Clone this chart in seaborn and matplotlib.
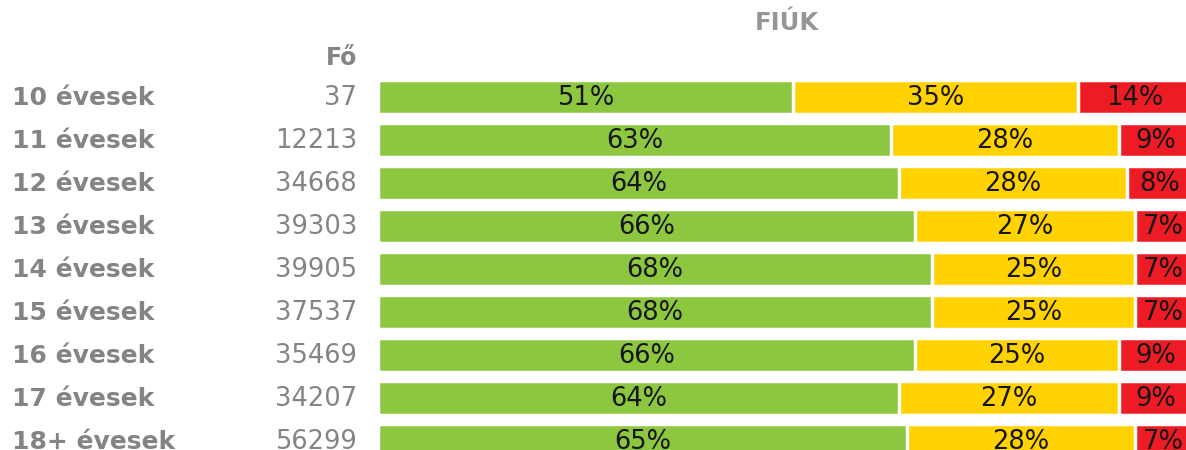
import numpy as np
import pandas as pd
import matplotlib
matplotlib.use('Agg')
import matplotlib.pyplot as plt
import matplotlib.transforms as mtransforms
import seaborn as sns

# Adatok
korcsoport = ['10 évesek', '11 évesek', '12 évesek', '13 évesek', '14 évesek',
              '15 évesek', '16 évesek', '17 évesek', '18+ évesek']
fo = [37, 12213, 34668, 39303, 39905, 37537, 35469, 34207, 56299]
zold = [51, 63, 64, 66, 68, 68, 66, 64, 65]
sarga = [35, 28, 28, 27, 25, 25, 25, 27, 28]
piros = [14, 9, 8, 7, 7, 7, 9, 9, 7]

szinek = {'zold': '#8DC63F', 'sarga': '#FFD200', 'piros': '#ED1C24'}
szurke = '#848484'

sns.set_style('white')
plt.rcParams['font.family'] = ['DejaVu Sans']

df = pd.DataFrame({'kor': korcsoport, 'fo': fo, 'zold': zold,
                   'sarga': sarga, 'piros': piros})
df['cum_sarga'] = df['zold'] + df['sarga']
df['cum_piros'] = df['cum_sarga'] + df['piros']

fig = plt.figure(figsize=(11.86, 4.5), dpi=100)
ax = fig.add_axes([378 / 1186, -12.5 / 450, 814 / 1186, 387 / 450])

# Halmozott sávok: a teljes hosszt rajzoljuk előbb, utána ráhelyezzük a rövidebbeket
sns.barplot(data=df, x='cum_piros', y='kor', orient='h', color=szinek['piros'],
            saturation=1, width=0.8, edgecolor='white', linewidth=2.5, ax=ax)
sns.barplot(data=df, x='cum_sarga', y='kor', orient='h', color=szinek['sarga'],
            saturation=1, width=0.8, edgecolor='white', linewidth=2.5, ax=ax)
sns.barplot(data=df, x='zold', y='kor', orient='h', color=szinek['zold'],
            saturation=1, width=0.8, edgecolor='white', linewidth=2.5, ax=ax)

ax.set_xlim(0, 100)
ax.set_ylim(8.5, -0.5)
ax.set_xlabel('')
ax.set_ylabel('')
ax.set_xticks([])
ax.set_yticks([])
sns.despine(ax=ax, left=True, bottom=True)

# Százalék feliratok a szakaszok közepén
for i, row in df.iterrows():
    kozepek = [row['zold'] / 2,
               row['zold'] + row['sarga'] / 2,
               row['cum_sarga'] + row['piros'] / 2]
    for xk, v in zip(kozepek, [row['zold'], row['sarga'], row['piros']]):
        ax.text(xk, i + 0.03, f'{v}%', ha='center', va='center',
                fontsize=18.5, color='#161616')

# Bal oldali feliratok (korcsoport és létszám)
trans = mtransforms.blended_transform_factory(fig.transFigure, ax.transData)
for i, row in df.iterrows():
    ax.text(12 / 1186, i + 0.03, row['kor'], transform=trans, ha='left',
            va='center', fontsize=18, fontweight='bold', color=szurke,
            clip_on=False)
    ax.text(357 / 1186, i + 0.03, str(row['fo']), transform=trans, ha='right',
            va='center', fontsize=18.5, color=szurke, clip_on=False)

fig.text(357 / 1186, 1 - 58 / 450, 'Fő', ha='right', va='center',
         fontsize=17, fontweight='bold', color=szurke)
fig.text(787 / 1186, 1 - 23 / 450, 'FIÚK', ha='center', va='center',
         fontsize=17.5, fontweight='bold', color='#969696')

fig.savefig('out.png', dpi=100)
